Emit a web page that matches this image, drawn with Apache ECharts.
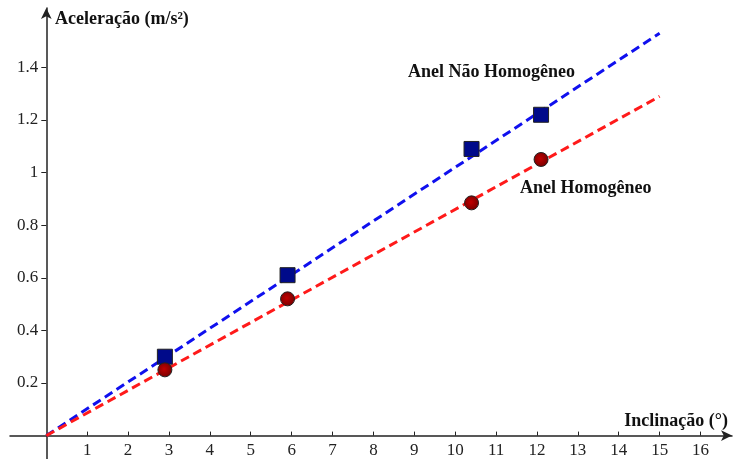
<!DOCTYPE html>
<html><head><meta charset="utf-8">
<script src="https://cdn.jsdelivr.net/npm/echarts@6/dist/echarts.min.js"></script>
<style>html,body{margin:0;padding:0;background:#fff}#c{width:734px;height:459px}</style>
</head><body><div id="c"></div>
<script>
const xTicks = [1,2,3,4,5,6,7,8,9,10,11,12,13,14,15,16];
const yTicks = [0.2,0.4,0.6,0.8,1.0,1.2,1.4];
const inclinacao = [2.9, 5.9, 10.4, 12.1];
const naoHomogeneo = [0.30, 0.61, 1.09, 1.22];
const homogeneo = [0.25, 0.52, 0.885, 1.05];
const fitX = [0, 15];
const fitNaoHomogeneo = [0, 1.53];
const fitHomogeneo = [0, 1.29];

const pairs = (xs, ys) => xs.map((x, i) => [x, ys[i]]);
const serif = '"Liberation Serif", "DejaVu Serif", serif';
const axisColor = '#222';
const bold = { fontFamily: serif, fontSize: 18, fontWeight: 'bold', fill: '#111', verticalAlign: 'middle' };

const W = 734, H = 459;
const grid = { left: 10, right: 2, top: 8, bottom: 0 };
const xMin = -0.888, xMax = 16.77, yMin = -0.089, yMax = 1.626;
// move axes onto the origin (labels included)
const xOff = -((0 - yMin) / (yMax - yMin)) * (H - grid.top - grid.bottom);
const yOff = -((0 - xMin) / (xMax - xMin)) * (W - grid.left - grid.right);

const chart = echarts.init(document.getElementById('c'));
chart.setOption({
  animation: false,
  backgroundColor: '#fff',
  grid: Object.assign({ containLabel: false, outerBoundsMode: 'none' }, grid),
  xAxis: {
    type: 'value', min: xMin, max: xMax, position: 'bottom', offset: xOff,
    splitLine: { show: false },
    axisLine: { onZero: false, lineStyle: { color: axisColor, width: 1.5 }, symbol: ['none', 'arrow'], symbolSize: [8, 11] },
    axisTick: { show: true, customValues: xTicks, length: 4, inside: true, lineStyle: { color: axisColor } },
    axisLabel: { customValues: xTicks, color: axisColor, fontFamily: serif, fontSize: 17, margin: 6, hideOverlap: false }
  },
  yAxis: {
    type: 'value', min: yMin, max: yMax, position: 'left', offset: yOff,
    splitLine: { show: false },
    axisLine: { onZero: false, lineStyle: { color: axisColor, width: 1.5 }, symbol: ['none', 'arrow'], symbolSize: [8, 11] },
    axisTick: { show: true, customValues: yTicks, length: 5, lineStyle: { color: axisColor } },
    axisLabel: { customValues: yTicks, color: axisColor, fontFamily: serif, fontSize: 17, margin: 8,
      formatter: v => String(Math.round(v * 10) / 10) }
  },
  graphic: [
    { type: 'text', x: 55, y: 19, style: Object.assign({ text: 'Aceleração (m/s²)' }, bold) },
    { type: 'text', x: 728, y: 421, style: Object.assign({ text: 'Inclinação (°)', align: 'right' }, bold) },
    { type: 'text', x: 408, y: 72, style: Object.assign({ text: 'Anel Não Homogêneo' }, bold) },
    { type: 'text', x: 520, y: 188, style: Object.assign({ text: 'Anel Homogêneo' }, bold) }
  ],
  series: [
    { type: 'line', data: pairs(fitX, fitNaoHomogeneo), symbol: 'none', z: 2,
      lineStyle: { color: '#1010ee', width: 3, type: [9, 5] } },
    { type: 'line', data: pairs(fitX, fitHomogeneo), symbol: 'none', z: 2,
      lineStyle: { color: '#ff1a1a', width: 3, type: [9, 5] } },
    { type: 'scatter', data: pairs(inclinacao, naoHomogeneo), symbol: 'rect', symbolSize: 15, z: 3,
      itemStyle: { color: '#000a8a', borderColor: '#222', borderWidth: 1, opacity: 1 } },
    { type: 'scatter', data: pairs(inclinacao, homogeneo), symbol: 'circle', symbolSize: 14, z: 3,
      itemStyle: { color: {type:'radial', x:0.45, y:0.45, r:0.6, colorStops:[{offset:0,color:'#c00000'},{offset:1,color:'#700000'}]}, borderColor: '#222', borderWidth: 1, opacity: 1 } }
  ]
});
</script></body></html>
